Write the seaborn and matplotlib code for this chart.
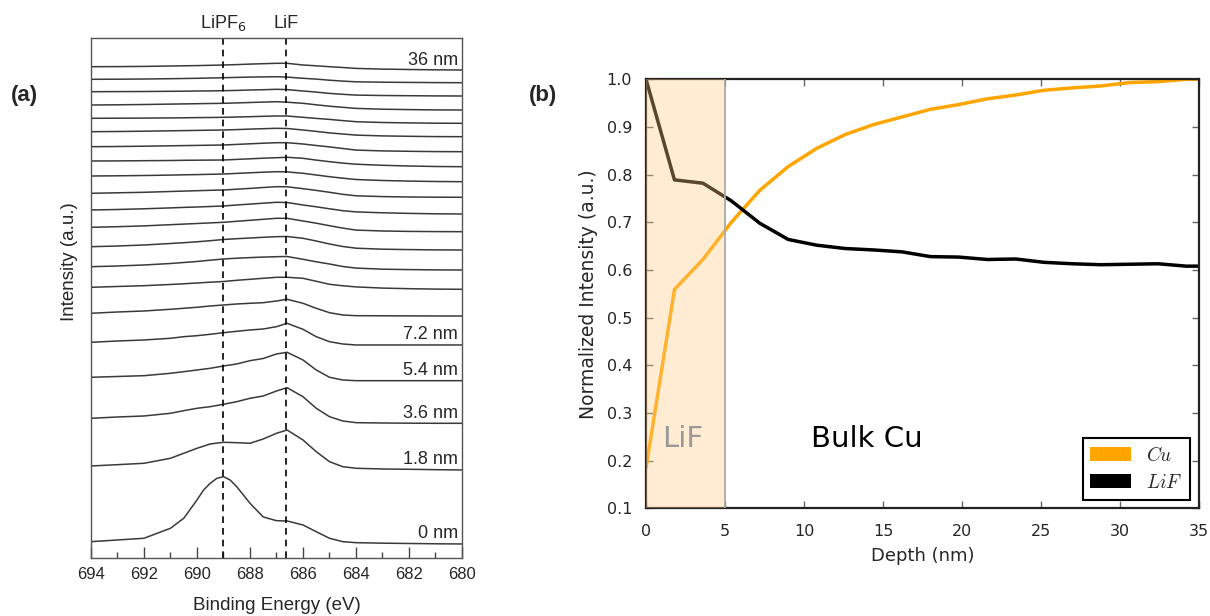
import numpy as np
import pandas as pd
import matplotlib
matplotlib.use('Agg')
import matplotlib.pyplot as plt
import matplotlib.transforms as mtransforms
from matplotlib.patches import Patch
from matplotlib.ticker import MultipleLocator
import seaborn as sns

# ---- panel (a): F 1s spectra, one trace per sputter depth ----
energy = [694, 693, 692, 691, 690.5, 690, 689.5, 689, 688.5, 688, 687.5,
          687, 686.6, 686, 685.5, 685, 684.5, 684, 683, 682, 681, 680]
# the 0 nm trace is read on a finer grid around its big peak
energy_0nm = [694, 693, 692, 691, 690.5, 690, 689.75, 689.5, 689.25, 689, 688.75,
              688.5, 688.25, 688, 687.5, 687, 686.6, 686, 685.5, 685, 684.5, 684,
              683, 682, 681, 680]

depths = [0, 1.8, 3.6, 5.4, 7.2, 9.0, 10.8, 12.6, 14.4, 16.2, 18.0,
          19.8, 21.6, 23.4, 25.2, 27.0, 28.8, 30.6, 32.4, 34.2, 36.0]

# stacking level of each trace (its 680 eV end)
baseline = [14, 88, 134.7, 177.3, 213, 242, 268.7, 288, 308, 326.3, 344,
            360.7, 376.3, 391.3, 406.3, 421.3, 434.7, 448, 462, 475.3, 488]

# intensities above the baseline (a.u.)
t_00 = [2.3, 4.0, 5.7, 15.7, 25.7, 44.0, 54.0, 60.7, 65.7, 67.3, 64.0, 57.3, 49.0,
        40.7, 27.0, 23.3, 23.0, 19.0, 12.3, 5.7, 2.3, 1.3, 0.8, 0.5, 0.2, 0.0]
t_18 = [4.0, 5.3, 6.7, 11.7, 16.7, 21.7, 26.0, 27.7, 27.3, 26.7, 31.0, 36.7, 40.0, 30.0, 18.3, 8.3, 3.3, 1.7, 1.0, 0.7, 0.3, 0.0]
t_36 = [5.0, 6.3, 7.3, 10.0, 12.6, 15.0, 16.6, 19.0, 21.6, 25.0, 27.3, 32.3, 35.6, 26.6, 15.0, 6.6, 2.3, 0.6, 0.3, 0.1, 0.0, 0.0]
t_54 = [3.4, 4.2, 5.0, 7.4, 9.0, 10.7, 12.4, 14.7, 16.7, 20.0, 22.2, 26.7, 28.4, 20.7, 10.7, 3.4, 0.7, 0.0, 0.0, 0.0, 0.0, 0.0]
t_72 = [2.7, 4.0, 5.0, 6.7, 8.3, 9.3, 10.7, 12.3, 13.7, 15.0, 16.0, 18.3, 21.7, 15.7, 8.3, 3.3, 1.0, 0.0, 0.0, 0.0, 0.0, 0.0]
t_90 = [2.7, 4.0, 5.0, 6.7, 7.7, 8.7, 10.0, 11.0, 12.0, 12.7, 13.3, 15.0, 16.7, 12.7, 7.7, 3.3, 1.0, 0.3, 0.2, 0.1, 0.0, 0.0]
t_108 = [2.0, 2.8, 3.6, 4.8, 5.5, 6.3, 7.1, 7.8, 9.0, 10.0, 11.0, 12.0, 12.0, 11.0, 8.0, 5.0, 3.5, 2.4, 1.2, 0.6, 0.2, 0.0]
t_126 = [3.3, 4.0, 5.0, 6.5, 7.5, 8.5, 9.8, 11.0, 11.8, 12.4, 12.9, 13.3, 13.5, 10.7, 8.2, 6.0, 3.5, 1.9, 0.8, 0.4, 0.1, 0.0]
t_144 = [3.3, 4.0, 5.0, 6.5, 7.3, 8.2, 9.3, 10.5, 11.3, 12.0, 12.7, 13.3, 13.5, 11.7, 9.0, 6.0, 3.5, 1.8, 0.8, 0.4, 0.1, 0.0]
t_162 = [4.4, 5.0, 5.8, 7.0, 7.6, 8.2, 8.8, 9.4, 10.4, 11.4, 12.4, 13.4, 13.4, 10.7, 8.5, 6.0, 3.6, 1.6, 0.7, 0.3, 0.1, 0.0]
t_180 = [4.0, 4.5, 5.2, 6.1, 6.6, 7.0, 7.5, 8.0, 9.0, 9.9, 10.8, 11.7, 11.5, 9.0, 7.2, 5.2, 3.3, 2.1, 1.2, 0.6, 0.2, 0.0]
t_198 = [4.0, 4.5, 5.0, 5.8, 6.2, 6.6, 7.0, 7.3, 8.1, 8.9, 9.8, 10.6, 10.5, 8.6, 6.9, 5.0, 3.0, 1.5, 0.7, 0.3, 0.1, 0.0]
t_216 = [5.7, 5.9, 6.2, 6.6, 6.9, 7.1, 7.4, 7.7, 8.3, 8.9, 9.5, 10.0, 9.8, 8.4, 6.7, 5.0, 3.5, 2.2, 1.2, 0.6, 0.2, 0.0]
t_234 = [5.7, 5.8, 6.0, 6.2, 6.4, 6.5, 6.6, 6.7, 7.3, 7.9, 8.5, 9.0, 9.4, 8.4, 6.6, 5.0, 3.6, 2.5, 1.4, 0.7, 0.2, 0.0]
t_252 = [5.0, 5.2, 5.5, 5.9, 6.1, 6.3, 6.5, 6.7, 7.3, 7.9, 8.5, 9.0, 9.0, 7.7, 6.2, 4.8, 3.2, 1.6, 0.8, 0.4, 0.1, 0.0]
t_270 = [5.0, 5.2, 5.5, 5.9, 6.1, 6.3, 6.5, 6.7, 7.1, 7.6, 8.0, 8.4, 8.2, 6.7, 5.3, 3.8, 2.7, 1.6, 0.8, 0.4, 0.1, 0.0]
t_288 = [5.0, 5.1, 5.2, 5.4, 5.5, 5.7, 5.8, 6.0, 6.3, 6.6, 7.0, 7.3, 7.3, 6.0, 4.9, 3.9, 2.7, 1.6, 0.8, 0.4, 0.1, 0.0]
t_306 = [5.0, 5.2, 5.5, 5.9, 6.1, 6.3, 6.5, 6.7, 7.1, 7.5, 7.9, 8.3, 7.8, 6.7, 5.2, 3.8, 2.7, 1.6, 0.8, 0.4, 0.1, 0.0]
t_324 = [4.3, 4.4, 4.5, 4.7, 4.8, 5.0, 5.1, 5.3, 5.6, 6.0, 6.3, 6.7, 6.4, 5.0, 3.9, 2.6, 1.7, 0.9, 0.5, 0.3, 0.1, 0.0]
t_342 = [3.4, 3.5, 3.7, 4.0, 4.2, 4.4, 4.7, 5.0, 5.3, 5.6, 5.8, 6.0, 5.6, 4.4, 3.6, 2.5, 1.6, 0.9, 0.5, 0.3, 0.1, 0.0]
t_360 = [3.3, 3.4, 3.6, 4.0, 4.2, 4.4, 4.7, 5.0, 5.4, 5.9, 6.3, 6.7, 6.7, 5.0, 4.2, 3.3, 2.5, 1.6, 0.9, 0.5, 0.2, 0.0]

traces = [t_00, t_18, t_36, t_54, t_72, t_90, t_108, t_126, t_144, t_162, t_180,
          t_198, t_216, t_234, t_252, t_270, t_288, t_306, t_324, t_342, t_360]

# which traces get a depth label
label_idx = [20, 4, 3, 2, 1, 0]
label_txt = ['36 nm', '7.2 nm', '5.4 nm', '3.6 nm', '1.8 nm', '0 nm']

peak_pos = [689.0, 686.65]
peak_names = ['LiPF$_6$', 'LiF']

# ---- panel (b): normalized intensity vs depth ----
depth_b = [0, 1.8, 3.6, 5.4, 7.2, 9.0, 10.8, 12.6, 14.4, 16.2, 18.0,
           19.8, 21.6, 23.4, 25.2, 27.0, 28.8, 30.6, 32.4, 34.2, 36.0]
cu = [0.185, 0.559, 0.622, 0.700, 0.767, 0.817, 0.855, 0.884, 0.905, 0.921, 0.937,
      0.947, 0.959, 0.967, 0.977, 0.982, 0.986, 0.993, 0.995, 1.000, 1.000]
lif = [1.000, 0.789, 0.782, 0.745, 0.698, 0.664, 0.652, 0.645, 0.642, 0.638, 0.628,
       0.627, 0.622, 0.623, 0.616, 0.613, 0.611, 0.612, 0.613, 0.608, 0.608]


sns.set_style('ticks')
plt.rcParams['font.family'] = ['Liberation Sans', 'DejaVu Sans']

fig = plt.figure(figsize=(12.1, 6.16), dpi=100)
ax_a = fig.add_axes([0.0752, 0.0942, 0.3066, 0.8441])
ax_b = fig.add_axes([0.5339, 0.1748, 0.4570, 0.6965])

# --- panel (a) ---
rows = []
for d, base, tr in zip(depths, baseline, traces):
    grid = energy_0nm if d == 0 else energy
    for e, v in zip(grid, tr):
        rows.append({'energy': e, 'depth': d, 'stacked': base + v})
df_a = pd.DataFrame(rows)

sns.lineplot(data=df_a, x='energy', y='stacked', units='depth', estimator=None,
             sort=False, color='#3a3a3a', lw=1.1, legend=False, ax=ax_a)

for p in peak_pos:
    ax_a.axvline(p, color='black', lw=1.2, ls=(0, (4, 3)))

trans_a = mtransforms.blended_transform_factory(ax_a.transData, ax_a.transAxes)
for p, name in zip(peak_pos, peak_names):
    ax_a.text(p, 1.019, name, transform=trans_a, ha='center', va='baseline', fontsize=13)

for i, txt in zip(label_idx, label_txt):
    ax_a.text(680.15, baseline[i] + 5.5, txt, ha='right', va='baseline', fontsize=13)

ax_a.set_xlim(694, 680)
ax_a.set_ylim(0, 520)
ax_a.xaxis.set_major_locator(MultipleLocator(2))
ax_a.xaxis.set_minor_locator(MultipleLocator(1))
ax_a.tick_params(axis='x', which='major', direction='in', length=8, width=1,
                 pad=6.5, labelsize=12, top=False, color='#444')
ax_a.tick_params(axis='x', which='minor', direction='in', length=4, width=1,
                 top=False, color='#444')
ax_a.tick_params(axis='y', left=False, labelleft=False)
for s in ax_a.spines.values():
    s.set_visible(True)
    s.set_color('#555555')
    s.set_linewidth(1.0)
ax_a.set_xlabel('Binding Energy (eV)', fontsize=13.5)
ax_a.set_ylabel('Intensity (a.u.)', fontsize=13.5)
ax_a.xaxis.set_label_coords(0.5, -0.075)
ax_a.yaxis.set_label_coords(-0.035, 0.569)

# --- panel (b) ---
df_b = pd.DataFrame({
    'depth': depth_b * 2,
    'intensity': cu + lif,
    'species': ['Cu'] * len(cu) + ['LiF'] * len(lif),
})
sns.lineplot(data=df_b, x='depth', y='intensity', hue='species',
             palette={'Cu': '#FFA500', 'LiF': 'black'}, lw=2.5,
             legend=False, ax=ax_b)

ax_b.axvspan(0, 5, color='#FFCB82', alpha=0.35, lw=0, zorder=3)
ax_b.axvline(5, color='#a8a8a8', lw=1.3, zorder=4)

ax_b.text(2.35, 0.245, 'LiF', fontsize=21, color='#999999', ha='center',
          va='center', family='DejaVu Sans', zorder=5)
ax_b.text(14.0, 0.245, 'Bulk Cu', fontsize=21, color='black', ha='center',
          va='center', family='DejaVu Sans', zorder=5)

ax_b.set_xlim(0, 35)
ax_b.set_ylim(0.1, 1.0)
xt = list(range(0, 36, 5))
yt = [round(v, 1) for v in np.arange(0.1, 1.01, 0.1)]
ax_b.set_xticks(xt, [str(v) for v in xt], fontfamily='DejaVu Sans', fontsize=11.5)
ax_b.set_yticks(yt, [f'{v:.1f}' for v in yt], fontfamily='DejaVu Sans', fontsize=11.5)
ax_b.tick_params(axis='x', direction='in', top=True, length=5, width=1, color='#666', pad=11)
ax_b.tick_params(axis='y', direction='in', right=True, length=5, width=1, color='#666', pad=10)
for s in ax_b.spines.values():
    s.set_visible(True)
    s.set_color('#222222')
    s.set_linewidth(1.6)
ax_b.set_xlabel('Depth (nm)', fontsize=13, family='DejaVu Sans', labelpad=6)
ax_b.set_ylabel('Normalized Intensity (a.u.)', fontsize=13.5, family='DejaVu Sans', labelpad=6.5)

handles = [Patch(facecolor='#FFA500', edgecolor='none'),
           Patch(facecolor='black', edgecolor='none')]
leg = ax_b.legend(handles, ['$Cu$', '$LiF$'], loc='lower right',
                  prop={'size': 14, 'math_fontfamily': 'cm'}, fancybox=False,
                  edgecolor='black', framealpha=1, borderaxespad=0.45,
                  handlelength=2.1, handleheight=0.75, handletextpad=0.75,
                  labelspacing=0.45, borderpad=0.4)
leg.get_frame().set_linewidth(1.5)

fig.text(24 / 1210, 1 - 96 / 616, '(a)', fontsize=16, weight='bold', ha='center', va='center')
fig.text(543 / 1210, 1 - 96 / 616, '(b)', fontsize=16, weight='bold', ha='center', va='center')

fig.savefig('out.png', dpi=100)
